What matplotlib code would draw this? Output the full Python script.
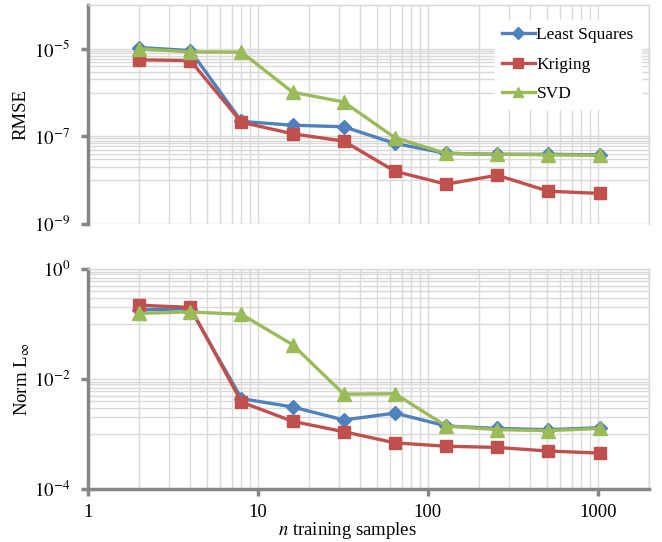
import numpy as np
import matplotlib
matplotlib.use('Agg')
import matplotlib.pyplot as plt
from matplotlib.ticker import FixedLocator, FuncFormatter, NullFormatter

plt.rcParams['font.family'] = ['Liberation Serif', 'DejaVu Serif']
plt.rcParams['mathtext.fontset'] = 'stix'

# Données
n_samples = [2, 4, 8, 16, 32, 64, 128, 256, 512, 1024]

rmse_ls = [1.07e-5, 9.1e-6, 2.2e-7, 1.8e-7, 1.66e-7, 6.9e-8, 4.1e-8, 3.9e-8, 3.9e-8, 3.8e-8]
rmse_kriging = [5.6e-6, 5.4e-6, 2.1e-7, 1.15e-7, 7.8e-8, 1.6e-8, 8.1e-9, 1.3e-8, 5.6e-9, 5.0e-9]
rmse_svd = [1.0e-5, 8.5e-6, 8.4e-6, 1.02e-6, 6.1e-7, 9.3e-8, 4.1e-8, 3.9e-8, 3.8e-8, 3.7e-8]

linf_ls = [0.18, 0.19, 4.4e-3, 3.1e-3, 1.8e-3, 2.4e-3, 1.4e-3, 1.26e-3, 1.2e-3, 1.3e-3]
linf_kriging = [0.22, 0.20, 3.8e-3, 1.7e-3, 1.1e-3, 6.9e-4, 6.0e-4, 5.7e-4, 4.9e-4, 4.5e-4]
linf_svd = [0.156, 0.166, 0.15, 0.042, 5.3e-3, 5.4e-3, 1.4e-3, 1.2e-3, 1.15e-3, 1.26e-3]

labels = ['Least Squares', 'Kriging', 'SVD']
colors = ['#4F81BD', '#C0504D', '#9BBB59']
markers = ['D', 's', '^']
msizes = [7.5, 9, 10]

x_ticks = [1, 10, 100, 1000]
top_yticks = [1e-9, 1e-7, 1e-5]
bot_yticks = [1e-4, 1e-2, 1e0]

grid_col = '#d9d9d9'
axis_col = '#868686'

fig = plt.figure(figsize=(6.62, 5.42), dpi=100)
ax1 = fig.add_axes([88 / 662, 1 - 224 / 542, 561 / 662, 219 / 542])
ax2 = fig.add_axes([88 / 662, 1 - 489 / 542, 561 / 662, 220 / 542])

def sci_fmt(v, pos):
    return r'$10^{%d}$' % int(round(np.log10(v)))

x_minor = [k * 10 ** d for d in range(0, 4) for k in range(2, 10)] + [1000, 2000]

def style(ax, yticks, ylim, show_bottom):
    ax.set_xscale('log')
    ax.set_yscale('log')
    ax.set_xlim(1, 2000)
    ax.set_ylim(*ylim)
    ax.xaxis.set_major_locator(FixedLocator(x_ticks))
    ax.xaxis.set_minor_locator(FixedLocator(x_minor))
    ax.yaxis.set_major_locator(FixedLocator(yticks))
    # lignes secondaires : 1..9 x 10^(major+1) comme dans Excel
    y_minor = [k * yt * 10 for yt in yticks[:-1] for k in range(1, 10)] + [ylim[1]]
    ax.yaxis.set_minor_locator(FixedLocator(y_minor))
    ax.yaxis.set_major_formatter(FuncFormatter(sci_fmt))
    ax.yaxis.set_minor_formatter(NullFormatter())
    ax.xaxis.set_minor_formatter(NullFormatter())
    ax.grid(True, which='both', color=grid_col, linewidth=1, zorder=0)
    ax.set_axisbelow(True)
    ax.tick_params(which='minor', length=0)
    ax.tick_params(which='major', direction='out', length=5, width=2.5,
                   color=axis_col, labelsize=13.5)
    ax.tick_params(axis='y', which='major', pad=8)
    ax.tick_params(axis='x', which='major', pad=6, top=False)
    ax.tick_params(axis='y', which='major', right=False)
    ax.spines['left'].set_color(axis_col)
    ax.spines['left'].set_linewidth(2.5)
    ax.spines['top'].set_color(grid_col)
    ax.spines['top'].set_linewidth(1)
    ax.spines['right'].set_color(grid_col)
    ax.spines['right'].set_linewidth(1)
    if show_bottom:
        ax.spines['bottom'].set_color(axis_col)
        ax.spines['bottom'].set_linewidth(2.5)
        ax.xaxis.set_major_formatter(FuncFormatter(lambda v, p: '%d' % v))
    else:
        ax.spines['bottom'].set_visible(False)
        ax.tick_params(axis='x', which='major', length=0, labelbottom=False)

style(ax1, top_yticks, (1e-9, 1e-4), False)
style(ax2, bot_yticks, (1e-4, 1e0), True)

for ax, series in [(ax1, [rmse_ls, rmse_kriging, rmse_svd]),
                   (ax2, [linf_ls, linf_kriging, linf_svd])]:
    for vals, lab, c, m, ms in zip(series, labels, colors, markers, msizes):
        ax.plot(n_samples, vals, color=c, marker=m, markersize=ms,
                linewidth=2.4, label=lab, clip_on=False, zorder=3)

ax1.set_ylabel('RMSE', fontsize=13.5)
ax1.yaxis.set_label_coords(-0.105, 0.5)
ax2.set_ylabel(r'Norm L$_{\infty}$', fontsize=13.5)
ax2.yaxis.set_label_coords(-0.10, 0.5)
ax2.set_xlabel(r'$n$ training samples', fontsize=13.5)
ax2.xaxis.set_label_coords(0.462, -0.14)

leg = ax1.legend(loc='upper right', bbox_to_anchor=(0.985, 0.93),
                 borderaxespad=0, fontsize=12.5, frameon=True, fancybox=False,
                 handlelength=1.9, handletextpad=0.1, labelspacing=0.75,
                 markerscale=0.75, borderpad=0.4)
leg.get_frame().set_facecolor('white')
leg.get_frame().set_edgecolor('white')
leg.get_frame().set_alpha(1)

fig.savefig('out.png', dpi=100)
